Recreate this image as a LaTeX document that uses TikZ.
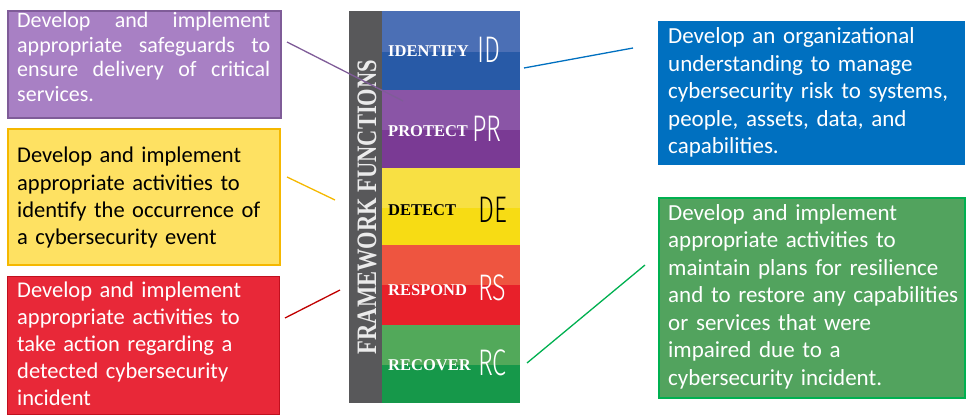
\documentclass[tikz,border=0pt]{standalone}
\usepackage{fontspec}
\usepackage{graphicx}
\setmainfont{Carlito}
\newfontfamily\serifface{Liberation Serif}
\newfontfamily\thinfont{Fira Sans Light}
\definecolor{pfill}{HTML}{A880C4}
\definecolor{pdraw}{HTML}{7F5C98}
\definecolor{yfill}{HTML}{FEE162}
\definecolor{ydraw}{HTML}{F5B800}
\definecolor{rfill}{HTML}{E82838}
\definecolor{rdraw}{HTML}{C0101E}
\definecolor{bfill}{HTML}{0070C0}
\definecolor{gfill}{HTML}{52A35E}
\definecolor{gdraw}{HTML}{00B050}
\definecolor{strip}{HTML}{58585A}
\definecolor{idA}{HTML}{4B6FB5}\definecolor{idB}{HTML}{285AA7}
\definecolor{prA}{HTML}{8A55A6}\definecolor{prB}{HTML}{7A3A94}
\definecolor{deA}{HTML}{F8E043}\definecolor{deB}{HTML}{F7DC14}
\definecolor{rsA}{HTML}{EE5540}\definecolor{rsB}{HTML}{E8202A}
\definecolor{rcA}{HTML}{52A95A}\definecolor{rcB}{HTML}{16984A}
\definecolor{redline}{HTML}{C00000}
\newcommand{\jline}[1]{\leavevmode\hbox to 253pt{#1}}
\begin{document}
\begin{tikzpicture}[x=1pt,y=-1pt,
  boxnode/.style={anchor=north west, inner sep=0pt, line width=1.6pt},
  boxtext/.style={anchor=base west, inner sep=0pt, align=left},
  bigtext/.style={font=\fontsize{23}{27.5}\selectfont},
  lefttext/.style={font=\fontsize{22.5}{27.2}\selectfont},
  fnname/.style={anchor=base west, inner sep=0pt, font=\serifface\bfseries\fontsize{16.5}{18}\selectfont},
  fncode/.style={anchor=base west, inner sep=0pt, font=\thinfont\fontsize{37}{40}\selectfont},
  conn/.style={line width=1.3pt}]
\useasboundingbox (0,0) rectangle (969,417);

% ---- central graphic ----
\fill[strip] (349,11) rectangle (382,403);
\fill[idA] (382,11) rectangle (520,52);   \fill[idB] (382,52) rectangle (520,90);
\fill[prA] (382,90) rectangle (520,130);  \fill[prB] (382,130) rectangle (520,168);
\fill[deA] (382,168) rectangle (520,208); \fill[deB] (382,208) rectangle (520,245);
\fill[rsA] (382,245) rectangle (520,285); \fill[rsB] (382,285) rectangle (520,325);
\fill[rcA] (382,325) rectangle (520,365); \fill[rcB] (382,365) rectangle (520,403);

\node[rotate=90, inner sep=0pt, text=black!8, font=\serifface\bfseries\fontsize{22.5}{24}\selectfont] (fw) at (367,207) {\scalebox{1}[1.25]{FRAMEWORK FUNCTIONS}};

\node[fnname, text=white] (idn) at (388,57) {IDENTIFY};
\node[fncode, text=white] (idc) at (477,63) {\scalebox{0.68}[1]{ID}};
\node[fnname, text=white] (prn) at (388,136) {PROTECT};
\node[fncode, text=white] (prc) at (472,142) {\scalebox{0.68}[1]{PR}};
\node[fnname, text=black] (den) at (388,215) {DETECT};
\node[fncode, text=black] (dec) at (478,222) {\scalebox{0.68}[1]{DE}};
\node[fnname, text=white] (rsn) at (388,295) {RESPOND};
\node[fncode, text=white] (rsc) at (478,300) {\scalebox{0.68}[1]{RS}};
\node[fnname, text=white] (rcn) at (388,370) {RECOVER};
\node[fncode, text=white] (rcc) at (478,375) {\scalebox{0.68}[1]{RC}};

% ---- description boxes ----
\node[boxnode, draw=pdraw, fill=pfill, minimum width=273pt, minimum height=107pt] (pbox) at (7,10) {};
\node[boxtext, text=white, text width=253pt, font=\fontsize{22}{24.5}\selectfont] (ptxt) at (17,28)
  {\jline{Develop\hfill and\hfill implement}\\
   \jline{appropriate\hfill safeguards\hfill to}\\
   \jline{ensure\hfill delivery\hfill of\hfill critical}\\
   services.};

\node[boxnode, draw=ydraw, fill=yfill, minimum width=272pt, minimum height=136pt] (ybox) at (7,128) {};
\node[boxtext, lefttext, text=black, text width=260pt] (ytxt) at (17,163)
  {Develop and implement\\appropriate activities to\\identify the occurrence of\\a cybersecurity event};

\node[boxnode, draw=rdraw, fill=rfill, line width=1.2pt, minimum width=272pt, minimum height=138pt] (rbox) at (7,276) {};
\node[boxtext, lefttext, text=white, text width=260pt] (rtxt) at (17,297)
  {Develop and implement\\appropriate activities to\\take action regarding a\\detected cybersecurity\\incident};

\node[boxnode, fill=bfill, minimum width=307pt, minimum height=144pt] (bbox) at (657,20) {};
\node[boxtext, bigtext, text=white, text width=300pt] (btxt) at (668,44)
  {Develop an organizational\\understanding to manage\\cybersecurity risk to systems,\\people, assets, data, and\\capabilities.};

\node[boxnode, draw=gdraw, fill=gfill, minimum width=306pt, minimum height=200pt] (gbox) at (658,197) {};
\node[boxtext, bigtext, text=white, text width=300pt] (gtxt) at (668,220)
  {Develop and implement\\appropriate activities to\\maintain plans for resilience\\and to restore any capabilities\\or services that were\\impaired due to a\\cybersecurity incident.};

% ---- connectors ----
\coordinate (pA) at (287,42);  \coordinate (pB) at (403,101);
\coordinate (yA) at (287,177); \coordinate (yB) at (335,200);
\coordinate (rA) at (285,318); \coordinate (rB) at (340,290);
\coordinate (bA) at (633,48);  \coordinate (bB) at (524,68);
\coordinate (gA) at (645,265); \coordinate (gB) at (527,363);
\draw[conn, pdraw] (pA) -- (pB);
\draw[conn, ydraw] (yA) -- (yB);
\draw[conn, redline] (rA) -- (rB);
\draw[conn, bfill] (bA) -- (bB);
\draw[conn, gdraw] (gA) -- (gB);
\end{tikzpicture}
\end{document}
